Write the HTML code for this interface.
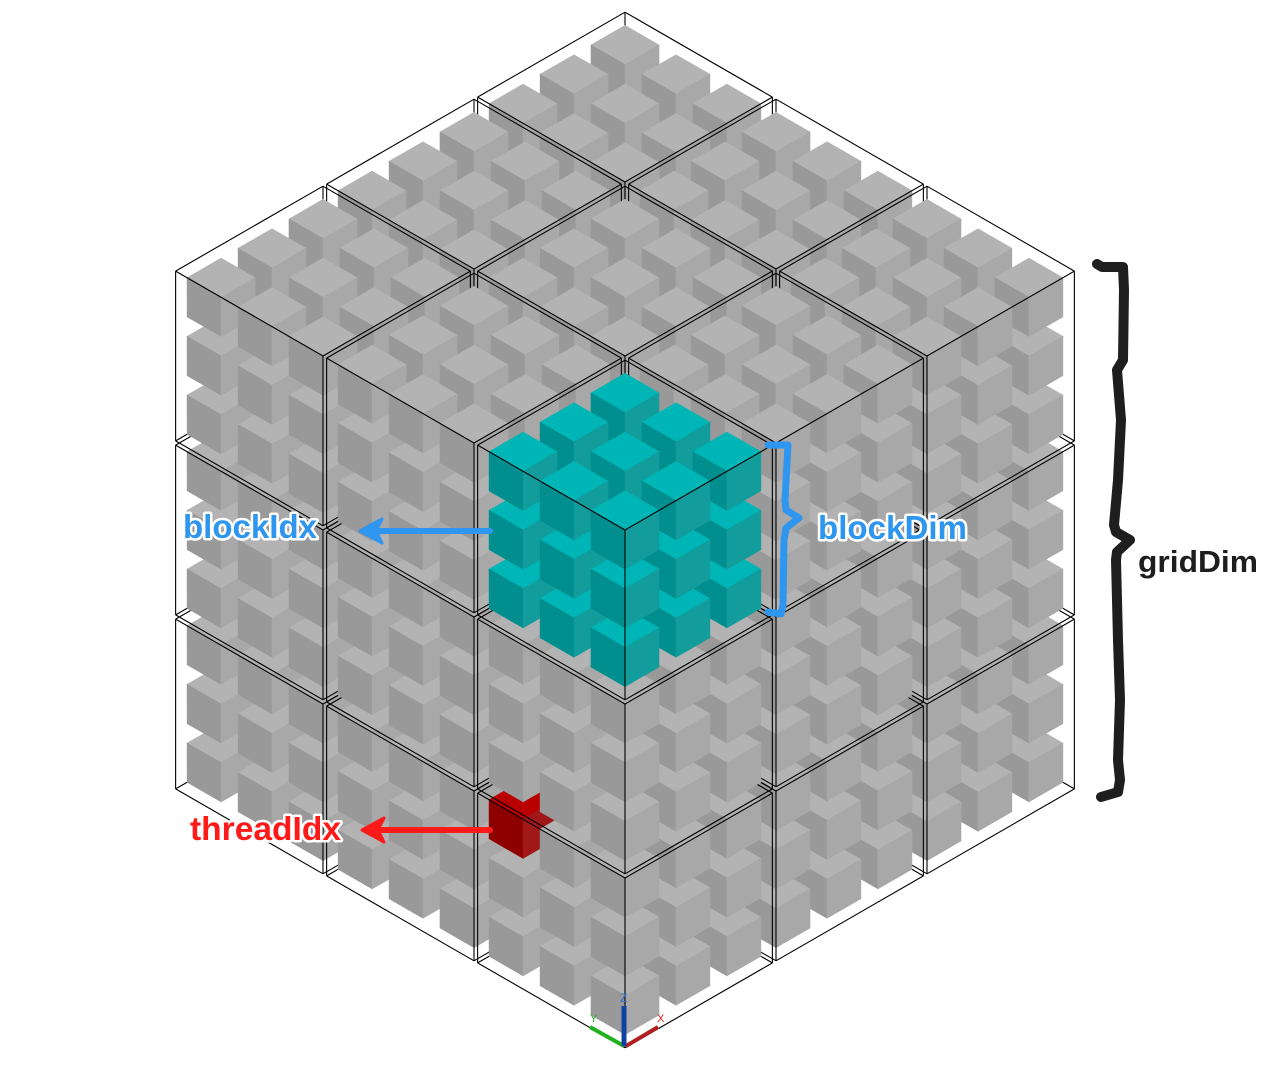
<!DOCTYPE html>
<html><head><meta charset="utf-8">
<style>
html,body{margin:0;padding:0;background:#fff;}
svg{display:block;}
.lbl{font-family:"Liberation Sans","DejaVu Sans",sans-serif;font-weight:bold;paint-order:stroke;stroke:#fff;stroke-width:5px;stroke-linejoin:round;}
</style></head>
<body>
<svg id="fig" width="1266" height="1067" viewBox="0 0 1266 1067" xmlns="http://www.w3.org/2000/svg">
<g id="scene"></g>
<g id="annot">
  <path d="M490 531 L378 531" stroke="#2f96f0" stroke-width="6" stroke-linecap="round" fill="none"/>
  <path d="M360 531 L382 519 L376 531 L382 543 Z" fill="#2f96f0" stroke="#2f96f0" stroke-width="3" stroke-linejoin="round"/>
  <text class="lbl" x="183" y="538" font-size="33" textLength="134" lengthAdjust="spacingAndGlyphs" fill="#2f96f0">blockIdx</text>
  <path d="M490 830 L380 830" stroke="#ff1a1a" stroke-width="6" stroke-linecap="round" fill="none"/>
  <path d="M362 830 L384 818 L378 830 L384 842 Z" fill="#ff1a1a" stroke="#ff1a1a" stroke-width="3" stroke-linejoin="round"/>
  <text class="lbl" x="190" y="840" font-size="33" textLength="151" lengthAdjust="spacingAndGlyphs" fill="#ff1a1a">threadIdx</text>
  <path d="M768 445 L788 445 L785 500 L786 510 L799 518 L786 528 L784 540 L783 605 L781 614 L768 612" stroke="#2f96f0" stroke-width="7" stroke-linecap="round" stroke-linejoin="round" fill="none"/>
  <text class="lbl" x="818" y="539" font-size="33" textLength="149" lengthAdjust="spacingAndGlyphs" fill="#2f96f0">blockDim</text>
  <path d="M1097 264 L1102 267 L1123 267 L1124 290 L1123 360 L1117 370 L1121 420 L1118 480 L1114 525 L1116 532 L1130 540 L1117 552 L1116 560 L1118 640 L1120 700 L1118 760 L1120 780 L1118 792 L1101 797" stroke="#1e1e1e" stroke-width="10" stroke-linecap="round" stroke-linejoin="round" fill="none"/>
  <text class="lbl" x="1138" y="572" font-size="31" textLength="120" lengthAdjust="spacingAndGlyphs" fill="#1e1e1e" style="stroke-width:0">gridDim</text>
  <g>
    <line x1="624" y1="1046" x2="590" y2="1027" stroke="#20b020" stroke-width="4"/>
    <line x1="626" y1="1046" x2="658" y2="1027" stroke="#b02020" stroke-width="4"/>
    <line x1="624" y1="1046" x2="624" y2="1006" stroke="#1040a0" stroke-width="5"/>
    <text x="620" y="1002" font-size="12" fill="#2f6fd0" font-family="Liberation Sans, sans-serif">Z</text>
    <text x="590" y="1022" font-size="11" fill="#20b020" font-family="Liberation Sans, sans-serif">Y</text>
    <text x="657" y="1022" font-size="11" fill="#e02020" font-family="Liberation Sans, sans-serif">X</text>
  </g>
</g>
</svg>
<script>
// Grid/block layout data
const gridDims = [3, 3, 3];          // blocks per axis (x, y, z)
const blockDims = [3, 3, 3];         // threads per axis in each block
const highlightBlock = [2, 2, 2];    // cyan block (blockIdx example)
const highlightThread = [2, 2, 0, 0, 2, 2]; // bx,by,bz,tx,ty,tz (threadIdx example)

const OX = 625, OY = 8, DX = 151, DY = 87, DZ = 174;
function P(x, y, z) {
  return [OX + (x - y) * DX, OY + (x + y) * DY + (gridDims[2] - z) * DZ];
}
function pts(arr) { return arr.map(p => P(p[0], p[1], p[2]).map(v => v.toFixed(1)).join(',')).join(' '); }

const NS = 'http://www.w3.org/2000/svg';
const scene = document.getElementById('scene');
const GRAY = ['#b3b3b3', '#999999', '#a8a8a8'];
const CYAN = ['#00b5b5', '#008e8e', '#139c9c'];
const RED = ['#b80000', '#8e0000', '#a01818'];

function poly(parent, p, fill, name) {
  const e = document.createElementNS(NS, 'polygon');
  e.setAttribute('points', pts(p));
  e.setAttribute('fill', fill);
  e.setAttribute('stroke', fill);
  e.setAttribute('stroke-width', '0.6');
  
  
  parent.appendChild(e);
}
function line(parent, a, b, name) {
  const pa = P(a[0], a[1], a[2]), pb = P(b[0], b[1], b[2]);
  const e = document.createElementNS(NS, 'line');
  e.setAttribute('x1', pa[0]); e.setAttribute('y1', pa[1]);
  e.setAttribute('x2', pb[0]); e.setAttribute('y2', pb[1]);
  e.setAttribute('stroke', '#000');
  e.setAttribute('stroke-width', '1.1');
  
  
  parent.appendChild(e);
}
function cube(parent, x, y, z, s, col) {
  const g = document.createElementNS(NS, 'g');
  
  
  poly(g, [[x,y,z+s],[x+s,y,z+s],[x+s,y+s,z+s],[x,y+s,z+s]], col[0], 'cube-top');
  poly(g, [[x,y+s,z],[x+s,y+s,z],[x+s,y+s,z+s],[x,y+s,z+s]], col[1], 'cube-left');
  poly(g, [[x+s,y,z],[x+s,y+s,z],[x+s,y+s,z+s],[x+s,y,z+s]], col[2], 'cube-right');
  parent.appendChild(g);
}

const blocks = [];
for (let bx = 0; bx < gridDims[0]; bx++)
  for (let by = 0; by < gridDims[1]; by++)
    for (let bz = 0; bz < gridDims[2]; bz++) blocks.push([bx, by, bz]);
blocks.sort((a, b) => (a[0] + a[1] + a[2]) - (b[0] + b[1] + b[2]));

const INSET = 0.05, CS = 0.225, E = 0.012;
blocks.forEach(b => {
  const [bx, by, bz] = b;
  const g = document.createElementNS(NS, 'g');
  
  
  scene.appendChild(g);
  const x0 = bx + E, y0 = by + E, z0 = bz + E, x1 = bx + 1 - E, y1 = by + 1 - E, z1 = bz + 1 - E;
  line(g, [x0,y0,z0], [x1,y0,z0], 'block-edge');
  line(g, [x0,y0,z0], [x0,y1,z0], 'block-edge');
  line(g, [x0,y0,z0], [x0,y0,z1], 'block-edge');
  const isHB = bx === highlightBlock[0] && by === highlightBlock[1] && bz === highlightBlock[2];
  const steps = (1 - 2 * INSET - CS) / (blockDims[0] - 1);
  const ths = [];
  for (let i = 0; i < blockDims[0]; i++)
    for (let j = 0; j < blockDims[1]; j++)
      for (let k = 0; k < blockDims[2]; k++) ths.push([i, j, k]);
  ths.sort((a, c) => (a[0] + a[1] + a[2]) - (c[0] + c[1] + c[2]));
  ths.forEach(t => {
    const ht = highlightThread;
    const isHT = bx === ht[0] && by === ht[1] && bz === ht[2] && t[0] === ht[3] && t[1] === ht[4] && t[2] === ht[5];
    const col = isHT ? RED : (isHB ? CYAN : GRAY);
    cube(g, bx + INSET + t[0] * steps, by + INSET + t[1] * steps, bz + INSET + t[2] * steps, CS, col);
  });
  line(g, [x0,y1,z0], [x1,y1,z0], 'block-edge');
  line(g, [x1,y0,z0], [x1,y1,z0], 'block-edge');
  line(g, [x1,y0,z0], [x1,y0,z1], 'block-edge');
  line(g, [x0,y1,z0], [x0,y1,z1], 'block-edge');
  line(g, [x1,y1,z0], [x1,y1,z1], 'block-edge');
  line(g, [x0,y0,z1], [x1,y0,z1], 'block-edge');
  line(g, [x0,y0,z1], [x0,y1,z1], 'block-edge');
  line(g, [x1,y0,z1], [x1,y1,z1], 'block-edge');
  line(g, [x0,y1,z1], [x1,y1,z1], 'block-edge');
});
</script>
</body></html>
